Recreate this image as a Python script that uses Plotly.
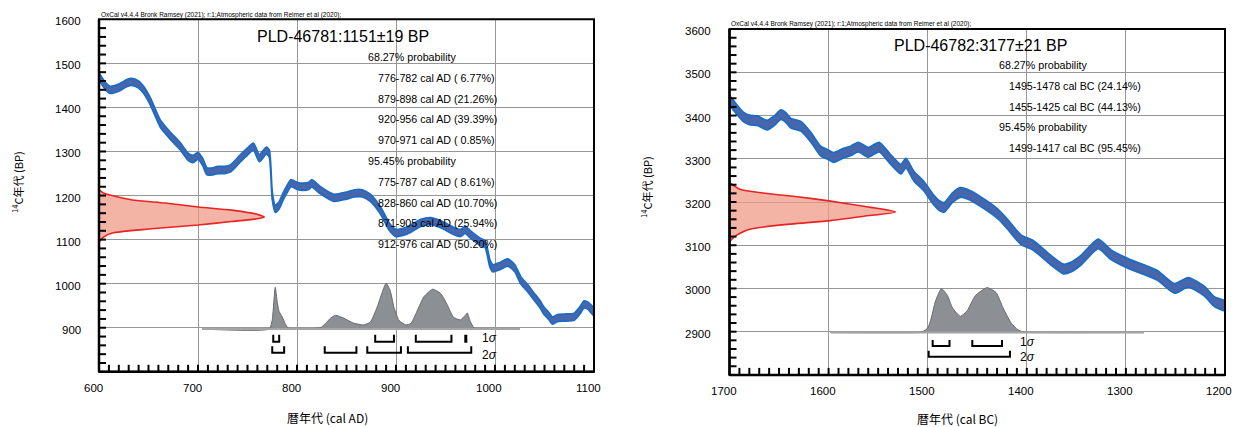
import plotly.graph_objects as go

W, H = 1236, 427

# ================= DATA: left panel (PLD-46781, cal AD) =================
ad_curve_years = [600, 606, 611, 620, 628, 633, 640, 645, 652, 662, 672, 682, 690, 695, 700,
                  705, 709, 715, 720, 727, 733, 743, 750, 756, 762, 769, 772, 775, 778, 782,
                  786, 790, 794, 800, 806, 812, 815, 823, 837, 850, 858, 866, 874, 880,
                  886, 893, 900, 908, 915, 925, 935, 945, 958, 965, 970, 975, 985, 990,
                  995, 998, 1005, 1013, 1020, 1026, 1033, 1039, 1045, 1049, 1055, 1058,
                  1063, 1070, 1080, 1086, 1090, 1094, 1100]
ad_curve_bp = [1470, 1450, 1440, 1445, 1455, 1458, 1452, 1440, 1413, 1363, 1336, 1312, 1288, 1283, 1290,
               1275, 1255, 1255, 1258, 1258, 1262, 1285, 1300, 1311, 1285, 1302, 1295, 1200, 1170, 1178,
               1198, 1215, 1228, 1222, 1220, 1222, 1228, 1213, 1195, 1200, 1205, 1205, 1195, 1180,
               1160, 1130, 1115, 1118, 1125, 1138, 1142, 1135, 1120, 1115, 1122, 1112, 1095, 1090,
               1045, 1035, 1040, 1048, 1035, 1008, 990, 972, 955, 940, 925, 916,
               922, 923, 925, 940, 953, 950, 935]
ad_curve_sigma = 8

ad_meas_bp = [1213, 1205, 1200, 1190, 1183, 1174, 1167, 1158, 1151, 1146, 1141, 1133, 1124, 1115, 1105, 1094]
ad_meas_dens = [0.0, 0.03, 0.08, 0.2, 0.4, 0.6, 0.8, 0.95, 1.0, 0.93, 0.8, 0.6, 0.3, 0.08, 0.025, 0.0]

ad_post_years = [704, 772, 775, 778, 780, 782, 785, 788, 791, 800, 815, 824, 830, 834, 839, 847,
                 857, 867, 874, 881, 886, 890, 894, 898, 903, 910, 915, 920, 928, 937, 945,
                 952, 958, 965, 970, 972, 975, 979, 993, 1025]
ad_post_dens = [0.0, 0.0, 0.2, 0.91, 0.6, 0.38, 0.27, 0.12, 0.02, 0.01, 0.01, 0.03, 0.15, 0.24, 0.3, 0.24,
                0.13, 0.09, 0.15, 0.48, 0.8, 1.0, 0.85, 0.47, 0.19, 0.09, 0.12, 0.33, 0.7, 0.87, 0.78,
                0.52, 0.26, 0.2, 0.3, 0.35, 0.17, 0.02, 0.01, 0.0]

ad_ranges_1s = [(776, 782), (879, 898), (920, 956), (970, 971)]
ad_ranges_2s = [(775, 787), (828, 860), (871, 905), (912, 976)]

ad_x_ticks = [600, 700, 800, 900, 1000, 1100]
ad_y_ticks = [900, 1000, 1100, 1200, 1300, 1400, 1500, 1600]

ad_title = "PLD-46781:1151±19 BP"
ad_lines = ["68.27% probability",
            "776-782 cal AD ( 6.77%)",
            "879-898 cal AD (21.26%)",
            "920-956 cal AD (39.39%)",
            "970-971 cal AD ( 0.85%)",
            "95.45% probability",
            "775-787 cal AD ( 8.61%)",
            "828-860 cal AD (10.70%)",
            "871-905 cal AD (25.94%)",
            "912-976 cal AD (50.20%)"]

# ================= DATA: right panel (PLD-46782, cal BC) =================
bc_curve_years = [1700, 1693, 1686, 1680, 1672, 1662, 1655, 1648, 1643, 1638, 1628, 1618, 1608,
                  1601, 1595, 1585, 1578, 1570, 1560, 1549, 1538, 1527, 1522, 1514, 1504, 1494,
                  1487, 1483, 1475, 1467, 1460, 1446, 1429, 1420, 1406, 1393, 1376, 1363, 1355,
                  1345, 1328, 1315, 1298, 1278, 1268, 1251, 1237, 1221, 1211, 1200]
bc_curve_bp = [3435, 3415, 3397, 3390, 3388, 3378, 3388, 3402, 3395, 3382, 3375, 3350, 3318,
               3310, 3303, 3313, 3318, 3327, 3315, 3327, 3300, 3276, 3290, 3260, 3237, 3205,
               3190, 3188, 3210, 3222, 3218, 3200, 3172, 3150, 3113, 3099, 3066, 3045, 3050,
               3066, 3103, 3078, 3058, 3040, 3030, 3000, 3014, 2994, 2970, 2960]
bc_curve_sigma = 11

bc_meas_bp = [3245, 3229, 3221, 3212, 3202, 3190, 3177, 3167, 3157, 3147, 3136, 3120, 3108]
bc_meas_dens = [0.0, 0.066, 0.2, 0.41, 0.61, 0.81, 1.0, 0.81, 0.61, 0.31, 0.11, 0.03, 0.0]

bc_post_years = [1598, 1510, 1505, 1500, 1497, 1492, 1486, 1480, 1475, 1467, 1460, 1452, 1440,
                 1431, 1424, 1416, 1409, 1403, 1395, 1282]
bc_post_dens = [0.0, 0.0, 0.02, 0.1, 0.27, 0.71, 0.98, 0.82, 0.55, 0.36, 0.49, 0.82, 1.0,
                0.89, 0.55, 0.22, 0.06, 0.01, 0.0, 0.0]

bc_ranges_1s = [(1495, 1478), (1455, 1425)]
bc_ranges_2s = [(1499, 1417)]

bc_x_ticks = [1700, 1600, 1500, 1400, 1300, 1200]
bc_y_ticks = [2900, 3000, 3100, 3200, 3300, 3400, 3500, 3600]

bc_title = "PLD-46782:3177±21 BP"
bc_lines = ["68.27% probability",
            "1495-1478 cal BC (24.14%)",
            "1455-1425 cal BC (44.13%)",
            "95.45% probability",
            "1499-1417 cal BC (95.45%)"]

oxcal_header = "OxCal v4.4.4 Bronk Ramsey (2021); r:1;Atmospheric data from Reimer et al (2020);"

# ================= styling =================
FONT = "Liberation Sans, Arial, Noto Sans CJK JP, sans-serif"
CJK = "Noto Sans CJK JP, sans-serif"
BAND_FILL = "rgb(72,102,172)"
BAND_LINE = "rgb(28,108,196)"
RED_FILL = "rgba(240,155,135,0.75)"
RED_LINE = "rgb(232,35,35)"
GRAY_FILL = "rgb(140,143,148)"
GRAY_LINE = "rgb(105,105,110)"
BASE_LINE = "rgb(165,165,165)"
GRID = "rgb(150,150,150)"

fig = go.Figure()


def add_panel(xa, ya, years, bp, sig, meas_bp, meas_dens, x0, red_span,
              post_years, post_dens, base, post_scale, r1, r2, br):
    px = list(post_years) + [post_years[-1], post_years[0]]
    py = [base + d * post_scale for d in post_dens] + [base, base]
    fig.add_trace(go.Scatter(x=px, y=py, xaxis=xa, yaxis=ya, mode="lines",
                             fill="toself", fillcolor=GRAY_FILL,
                             line=dict(color=GRAY_LINE, width=1, shape="spline", smoothing=0.5),
                             hoverinfo="skip", showlegend=False))
    fig.add_trace(go.Scatter(x=[post_years[0], post_years[-1]], y=[base, base],
                             xaxis=xa, yaxis=ya, mode="lines",
                             line=dict(color=BASE_LINE, width=2),
                             hoverinfo="skip", showlegend=False))
    rx = [x0 + d * red_span for d in meas_dens]
    fig.add_trace(go.Scatter(x=rx, y=meas_bp, xaxis=xa, yaxis=ya, mode="lines",
                             fill="toself", fillcolor=RED_FILL,
                             line=dict(color=RED_LINE, width=1.6, shape="spline", smoothing=0.6),
                             hoverinfo="skip", showlegend=False))
    up = [v + sig for v in bp]
    lo = [v - sig for v in bp]
    fig.add_trace(go.Scatter(x=list(years) + list(years)[::-1], y=up + lo[::-1],
                             xaxis=xa, yaxis=ya, mode="lines", fill="toself",
                             fillcolor=BAND_FILL,
                             line=dict(color=BAND_LINE, width=1.8, shape="spline", smoothing=0.6),
                             hoverinfo="skip", showlegend=False))
    for ranges, (top, bot) in ((r1, br[0]), (r2, br[1])):
        bx, byy = [], []
        for a, b in ranges:
            bx += [a, a, b, b, None]
            byy += [top, bot, bot, top, None]
        fig.add_trace(go.Scatter(x=bx, y=byy, xaxis=xa, yaxis=ya, mode="lines",
                                 line=dict(color="black", width=2),
                                 hoverinfo="skip", showlegend=False))


add_panel("x", "y", ad_curve_years, ad_curve_bp, ad_curve_sigma, ad_meas_bp, ad_meas_dens,
          600, 167, ad_post_years, ad_post_dens, 897, 104, ad_ranges_1s, ad_ranges_2s,
          ((884, 868), (858, 843)))
add_panel("x2", "y2", bc_curve_years, bc_curve_bp, bc_curve_sigma, bc_meas_bp, bc_meas_dens,
          1700, -167.5, bc_post_years, bc_post_dens, 2898, 104, bc_ranges_1s, bc_ranges_2s,
          ((2881, 2867), (2856, 2842)))


def xaxis(dom, rng, vals, anchor):
    return dict(domain=dom, range=rng, anchor=anchor, automargin=False,
                showline=False, ticks="", tickmode="array", tickvals=vals, showticklabels=False,
                showgrid=True, gridcolor=GRID, gridwidth=1, zeroline=False, fixedrange=True)


def yaxis(dom, rng, vals, anchor):
    return dict(domain=dom, range=rng, anchor=anchor, automargin=False,
                showline=False, ticks="", tickmode="array", tickvals=vals, showticklabels=False,
                showgrid=True, gridcolor=GRID, gridwidth=1, zeroline=False, fixedrange=True)


def px2x(p):
    return p / W


def px2y(p):
    return 1 - p / H


annotations = []
shapes = []


def ann(text, x, y, size, xanchor="left", family=FONT, angle=0):
    annotations.append(dict(text=text, x=px2x(x), y=px2y(y), xref="paper", yref="paper",
                            xanchor=xanchor, yanchor="middle", showarrow=False, textangle=angle,
                            font=dict(family=family, size=size, color="black")))


def axis_decor(xa, ya, xvals, yvals, x_label_py, y_label_px, xlim, ylim, w_px, h_px):
    for v in xvals:
        annotations.append(dict(text=str(v), x=v, y=px2y(x_label_py), xref=xa, yref="paper",
                                xanchor="center", yanchor="middle", xshift=-6, showarrow=False,
                                font=dict(family=FONT, size=11.5, color="black")))
    for v in yvals:
        annotations.append(dict(text=str(v), x=px2x(y_label_px), y=v, xref="paper", yref=ya,
                                xanchor="right", yanchor="middle", yshift=-2, showarrow=False,
                                font=dict(family=FONT, size=11.5, color="black")))
    # inside ticks drawn as thin tick rectangles, starting just inside the frame
    lo, hi = min(xlim), max(xlim)
    xt = list(range(lo + 10, hi, 10))
    yt = list(range(ylim[0] + 20, ylim[1], 20))
    ins = 1.0 / h_px
    ln_y = 7.0 / h_px
    for t in xt:
        shapes.append(dict(type="line", xref=xa, yref="paper",
                           x0=t, x1=t, y0=px2y(0), y1=px2y(0), line=dict(width=0)))
    # paper-space ticks: compute pixel positions through the axis scale
    dom_x = fig.layout[("xaxis" if xa == "x" else "xaxis2")].domain
    dom_y = fig.layout[("yaxis" if ya == "y" else "yaxis2")].domain
    x_lo_p, x_hi_p = dom_x
    y_lo_p, y_hi_p = dom_y
    for t in xt:
        fx = x_lo_p + (t - xlim[0]) / (xlim[1] - xlim[0]) * (x_hi_p - x_lo_p)
        shapes.append(dict(type="line", xref="paper", yref="paper", x0=fx, x1=fx,
                           y0=y_lo_p, y1=y_lo_p + 7.0 / H,
                           line=dict(color="black", width=2), layer="above"))
    for t in yt:
        fy = y_lo_p + (t - ylim[0]) / (ylim[1] - ylim[0]) * (y_hi_p - y_lo_p)
        shapes.append(dict(type="line", xref="paper", yref="paper", x0=x_lo_p,
                           x1=x_lo_p + 7.0 / W, y0=fy, y1=fy,
                           line=dict(color="black", width=2), layer="above"))
    shapes.append(dict(type="rect", xref="paper", yref="paper",
                       x0=x_lo_p, x1=x_hi_p, y0=y_lo_p, y1=y_hi_p,
                       line=dict(color="black", width=2), layer="above"))
    shapes.append(dict(type="line", xref="paper", yref="paper",
                       x0=x_lo_p, x1=x_hi_p, y0=y_lo_p, y1=y_lo_p,
                       line=dict(color="black", width=2.5), layer="above"))
    shapes.append(dict(type="line", xref="paper", yref="paper",
                       x0=x_lo_p, x1=x_lo_p, y0=y_lo_p, y1=y_hi_p,
                       line=dict(color="black", width=2.5), layer="above"))


fig.update_layout(
    template="none",
    width=W, height=H, autosize=False,
    margin=dict(l=0, r=0, t=0, b=0, pad=0, autoexpand=False),
    paper_bgcolor="white", plot_bgcolor="white",
    showlegend=False,
    xaxis=xaxis([px2x(99), px2x(594)], [600, 1100], ad_x_ticks, "y"),
    yaxis=yaxis([px2y(371.8), px2y(19.3)], [800, 1600], ad_y_ticks, "x"),
    xaxis2=xaxis([px2x(729.5), px2x(1225)], [1700, 1200], bc_x_ticks, "y2"),
    yaxis2=yaxis([px2y(374.9), px2y(29.1)], [2800, 3600], bc_y_ticks, "x2"),
)

shapes.clear()
axis_decor("x", "y", ad_x_ticks, ad_y_ticks, 388, 83, (600, 1100), (800, 1600), 495, 352.5)
axis_decor("x2", "y2", bc_x_ticks, bc_y_ticks, 391, 713, (1700, 1200), (2800, 3600), 495.5, 345.8)
shapes = [s for s in shapes if s.get("xref") == "paper"]

# left panel texts
ann(oxcal_header, 99, 15, 6.5)
ann(ad_title, 342.5, 37, 16, xanchor="center")
for i, t in enumerate(ad_lines):
    ann(t, 366 if "probability" in t else 376, 57 + i * 20.8, 10.7)
ann("1<i>σ</i>", 480, 338, 12)
ann("2<i>σ</i>", 480, 355, 12)
ann("暦年代 (cal AD)", 327, 417, 12, xanchor="center", family=CJK)
ann("<sup>14</sup>C年代 (BP)", 17, 182, 11, xanchor="center", family=CJK, angle=-90)

# right panel texts
ann(oxcal_header, 729, 24, 6.5)
ann(bc_title, 980, 45, 16, xanchor="center")
for i, t in enumerate(bc_lines):
    ann(t, 997 if "probability" in t else 1007, 65 + i * 20.8, 10.7)
ann("1<i>σ</i>", 1018, 342, 12)
ann("2<i>σ</i>", 1018, 357, 12)
ann("暦年代 (cal BC)", 957.5, 418, 12, xanchor="center", family=CJK)
ann("<sup>14</sup>C年代 (BP)", 646, 187, 11, xanchor="center", family=CJK, angle=-90)

fig.update_layout(annotations=annotations, shapes=shapes)

fig.write_html("out.html", config={"displayModeBar": False},
               post_script="document.body.style.margin='0';")
